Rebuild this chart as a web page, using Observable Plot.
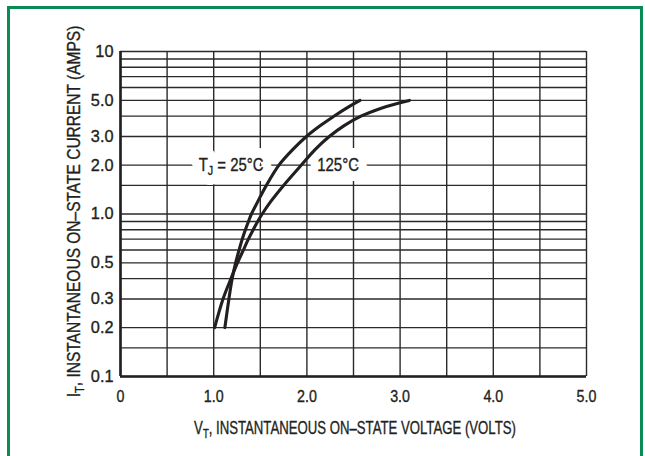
<!DOCTYPE html>
<html><head><meta charset="utf-8">
<script src="https://cdn.jsdelivr.net/npm/d3@7"></script>
<script src="https://cdn.jsdelivr.net/npm/@observablehq/plot@0.6"></script>
<style>
body{margin:0;background:#fff;}
#wrap{position:relative;width:645px;height:456px;overflow:hidden;background:#fff;}
#wrap svg{position:absolute;left:0;top:0;}
#frame{position:absolute;left:7px;top:6px;width:636px;height:480px;border:3px solid #0b8a55;border-bottom:none;box-sizing:border-box;}
</style></head><body><div id="wrap"><div id="frame"></div></div>
<script>
// ---- data ----
const current25  = [0.2, 0.3, 0.4, 0.5, 0.6, 0.7, 0.8, 0.9, 1.0, 1.2, 1.5, 2.0, 2.5, 3.0, 3.5, 4.0, 4.5, 5.0];
const voltage25  = [1.12, 1.163, 1.198, 1.235, 1.272, 1.306, 1.34, 1.373, 1.405, 1.475, 1.565, 1.70, 1.85, 1.995, 2.145, 2.29, 2.43, 2.57];
const current125 = [0.2, 0.3, 0.4, 0.5, 0.6, 0.7, 0.8, 0.9, 1.0, 1.2, 1.5, 2.0, 2.5, 3.0, 3.5, 4.0, 4.4, 4.8, 5.0];
const voltage125 = [1.01, 1.10, 1.185, 1.255, 1.318, 1.372, 1.424, 1.472, 1.52, 1.615, 1.75, 1.94, 2.09, 2.24, 2.40, 2.58, 2.76, 2.98, 3.10];

const xTicks = [0, 1, 2, 3, 4, 5];
const xTickLabels = ["0", "1.0", "2.0", "3.0", "4.0", "5.0"];
const xGrid = [0, 0.5, 1, 1.5, 2, 2.5, 3, 3.5, 4, 4.5, 5];
const yTicks = [0.1, 0.2, 0.3, 0.5, 0.7, 1, 2, 3, 5, 7, 10];
const yTickLabels = ["0.1", "0.2", "0.3", "0.5", "0.7", "1.0", "2.0", "3.0", "5.0", "7.0", "10"];
const yGrid = [0.1, 0.15, 0.2, 0.3, 0.4, 0.5, 0.6, 0.7, 0.8, 0.9, 1, 1.5, 2, 3, 4, 5, 6, 7, 8, 9, 10];

const labelTexts = ["T_J = 25°C", "125°C"];
const labelV = [1.187, 2.335];
const labelI = [2.0, 2.0];
const xTitle = "V_T, INSTANTANEOUS ON–STATE VOLTAGE (VOLTS)";
const yTitle = "I_T, INSTANTANEOUS ON–STATE CURRENT (AMPS)";

// ---- build ----
const ink = "#231f20";
const font = "'Liberation Sans', Arial, Helvetica, sans-serif";
const s25 = current25.map((c, i) => ({v: voltage25[i], c}));
const s125 = current125.map((c, i) => ({v: voltage125[i], c}));
const labels = labelTexts.map((t, i) => ({t, v: labelV[i], c: labelI[i]}));

const plot = Plot.plot({
  width: 645, height: 456,
  marginLeft: 120, marginRight: 59, marginTop: 51, marginBottom: 80,
  style: {fontFamily: font, fontSize: "17px", color: ink, background: "transparent", overflow: "visible"},
  x: {domain: [0, 5], ticks: xTicks, tickFormat: d => xTickLabels[xTicks.indexOf(d)], tickSize: 0, tickPadding: 13, label: null},
  y: {type: "log", domain: [0.1, 10], ticks: yTicks, tickFormat: d => yTickLabels[yTicks.indexOf(d)], tickSize: 0, tickPadding: 7, label: null},
  marks: [
    Plot.ruleY(yGrid, {stroke: "#2a2a2a", strokeWidth: 1.4}),
    Plot.ruleX(xGrid, {stroke: "#2a2a2a", strokeWidth: 1.4}),
    Plot.ruleX([0], {stroke: ink, strokeWidth: 2.6}),
    Plot.ruleY([0.1], {stroke: ink, strokeWidth: 2.6}),
    // white halo behind the labels, then the labels themselves
    Plot.text(labels, {x: "v", y: "c", text: "t", fill: "white", fontSize: 18, stroke: "white", strokeWidth: 20, strokeLinejoin: "round"}),
    Plot.text(labels, {x: "v", y: "c", text: "t", fill: ink, fontSize: 18}),
    Plot.line(s25, {x: "v", y: "c", curve: "catmull-rom", stroke: ink, strokeWidth: 3.1}),
    Plot.line(s125, {x: "v", y: "c", curve: "catmull-rom", stroke: ink, strokeWidth: 3.1})
  ]
});
const wrap = document.getElementById("wrap");
wrap.prepend(plot);

const NS = "http://www.w3.org/2000/svg";
function subscriptify(el) {
  const m = /^(.*?)_(\w)(.*)$/.exec(el.textContent);
  if (!m) return;
  el.textContent = "";
  const a = document.createElementNS(NS, "tspan"); a.textContent = m[1];
  const b = document.createElementNS(NS, "tspan"); b.textContent = m[2];
  b.setAttribute("font-size", "72%"); b.setAttribute("dy", "0.32em");
  const c = document.createElementNS(NS, "tspan"); c.textContent = m[3];
  c.setAttribute("dy", "-0.23em");
  el.append(a, b, c);
}
function squeeze(el, opt) {
  const g = document.createElementNS(NS, "g");
  el.parentNode.insertBefore(g, el);
  g.appendChild(el);
  const bb = g.getBBox();
  const anchor = getComputedStyle(el).textAnchor;
  if (opt.dir === "y") {
    const s = opt.target ? opt.target / bb.height : opt.factor;
    const cy = bb.y + bb.height / 2;
    g.setAttribute("transform", `translate(0,${cy}) scale(1,${s}) translate(0,${-cy})`);
  } else {
    const s = opt.target ? opt.target / bb.width : opt.factor;
    const cx = anchor === "end" ? bb.x + bb.width : anchor === "start" ? bb.x : bb.x + bb.width / 2;
    g.setAttribute("transform", `translate(${cx},0) scale(${s},1) translate(${-cx},0)`);
  }
}
function thicken(el) {
  el.setAttribute("stroke", ink);
  el.setAttribute("stroke-width", 0.35);
}

const xs = plot.scale("x"), ys = plot.scale("y");
const xMid = (xs.range[0] + xs.range[1]) / 2;
const yMid = (ys.range[0] + ys.range[1]) / 2;

// existing texts: tick labels and annotations
const labelWidths = [65, 42];
for (const t of Array.from(plot.querySelectorAll("text"))) {
  const content = t.textContent;
  const li = labelTexts.indexOf(content);
  const isHalo = t.getAttribute("fill") === "white" || (t.parentNode && t.parentNode.getAttribute && t.parentNode.getAttribute("fill") === "white");
  if (li >= 0) {
    subscriptify(t);
    if (!isHalo) thicken(t);
    squeeze(t, {dir: "x", target: labelWidths[li]});
  } else {
    thicken(t);
    const anchor = getComputedStyle(t).textAnchor;
    squeeze(t, {dir: "x", factor: anchor === "end" ? 0.96 : 0.84});
  }
}

// axis titles
const xt = document.createElementNS(NS, "text");
xt.textContent = xTitle;
xt.setAttribute("x", xMid + 2); xt.setAttribute("y", 434);
xt.setAttribute("text-anchor", "middle"); xt.setAttribute("fill", ink);
xt.setAttribute("font-size", 18); xt.setAttribute("font-family", font);
plot.appendChild(xt);
subscriptify(xt);
thicken(xt);
squeeze(xt, {dir: "x", target: 322});

const yt = document.createElementNS(NS, "text");
yt.textContent = yTitle;
yt.setAttribute("transform", `translate(80,${yMid - 2}) rotate(-90)`);
yt.setAttribute("text-anchor", "middle"); yt.setAttribute("fill", ink);
yt.setAttribute("font-size", 18); yt.setAttribute("font-family", font);
plot.appendChild(yt);
subscriptify(yt);
thicken(yt);
squeeze(yt, {dir: "y", target: 372});
</script>
</body></html>
